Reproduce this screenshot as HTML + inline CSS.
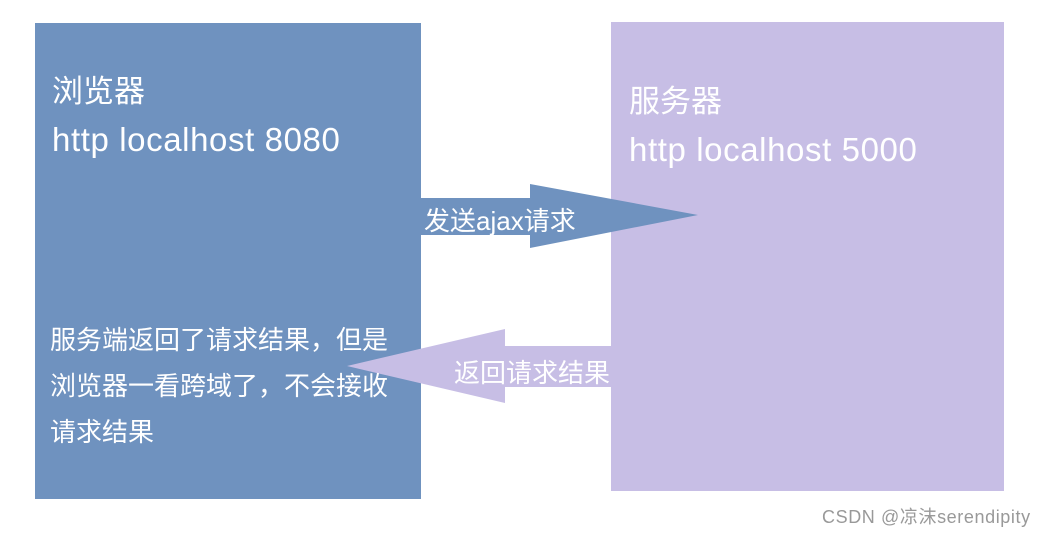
<!DOCTYPE html>
<html><head><meta charset="utf-8"><style>
body{margin:0;width:1045px;height:533px;background:#fff;position:relative;overflow:hidden;font-family:"Liberation Sans","Noto Sans CJK SC",sans-serif;}
.t{position:absolute;color:#fff;white-space:nowrap;}
</style></head><body>
<div style="position:absolute;left:35px;top:23px;width:386px;height:476px;background:#6f92bf"></div>
<div style="position:absolute;left:611px;top:22px;width:393px;height:469px;background:#c7bee5"></div>
<svg width="1045" height="533" style="position:absolute;left:0;top:0">
<polygon points="421,198 530,198 530,184 698,215 530,248 530,235 421,235" fill="#6f92bf"/>
<polygon points="611,346 505,346 505,329 347,366 505,403 505,387 611,387" fill="#c7bee5"/>
</svg>
<div class="t" style="left:52px;top:66px;font-size:31px">浏览器</div>
<div class="t" style="left:52px;top:121px;font-size:33px;letter-spacing:0.6px">http localhost 8080</div>
<div class="t" style="left:629px;top:76px;font-size:31px">服务器</div>
<div class="t" style="left:629px;top:131px;font-size:33px;letter-spacing:0.6px">http localhost 5000</div>
<div class="t" style="left:424px;top:201px;font-size:26px">发送ajax请求</div>
<div class="t" style="left:454px;top:353px;font-size:26px">返回请求结果</div>
<div class="t" style="left:50px;top:317px;font-size:26px;line-height:46px">服务端返回了请求结果，但是<br>浏览器一看跨域了，不会接收<br>请求结果</div>
<div style="position:absolute;left:822px;top:503px;font-size:18px;letter-spacing:0.6px;color:#999;white-space:nowrap">CSDN @凉沫serendipity</div>
</body></html>
